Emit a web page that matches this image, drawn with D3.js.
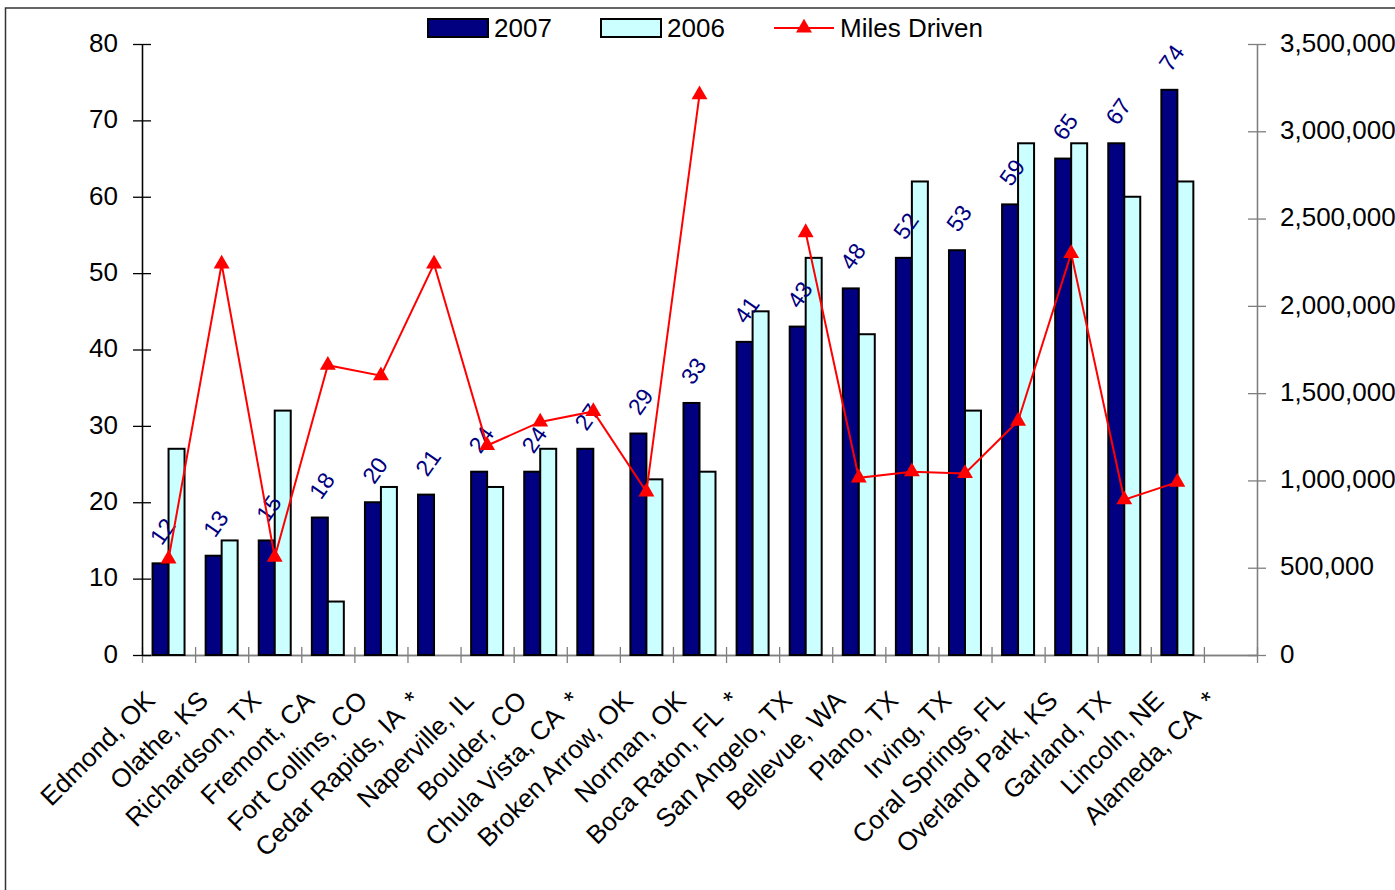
<!DOCTYPE html>
<html>
<head>
<meta charset="utf-8">
<script src="https://cdn.jsdelivr.net/npm/d3@7"></script>
<style>
  html, body { margin: 0; padding: 0; background: #fff; }
  svg { display: block; font-family: "Liberation Sans", Arial, sans-serif; }
</style>
</head>
<body>
<svg id="chart" width="1395" height="890"></svg>
<script>
// ---------------- data ----------------
const categories = ["Edmond, OK","Olathe, KS","Richardson, TX","Fremont, CA","Fort Collins, CO",
  "Cedar Rapids, IA *","Naperville, IL","Boulder, CO","Chula Vista, CA *","Broken Arrow, OK",
  "Norman, OK","Boca Raton, FL *","San Angelo, TX","Bellevue, WA","Plano, TX","Irving, TX",
  "Coral Springs, FL","Overland Park, KS","Garland, TX","Lincoln, NE","Alameda, CA *"];
const seriesNames = ["2007", "2006", "Miles Driven"];
const values2007 = [12,13,15,18,20,21,24,24,27,29,33,41,43,48,52,53,59,65,67,74,null];
const values2006 = [27,15,32,7,22,null,22,27,null,23,24,45,52,42,62,32,67,67,60,62,null];
const milesDriven = [550000,2240000,560000,1660000,1600000,2240000,1200000,1335000,1395000,935000,
  3210000,null,2420000,1015000,1050000,1040000,1340000,2300000,890000,990000,null];
const leftTicks = [0,10,20,30,40,50,60,70,80];
const rightTicks = [0,500000,1000000,1500000,2000000,2500000,3000000,3500000];

// ---------------- layout ----------------
const svg = d3.select("#chart");
const X0 = 142, X1 = 1257, Y0 = 655, YT = 44;
const colors = { dark: "#000080", light: "#CCFFFF", line: "#FF0000" };

// outer frame
svg.append("rect").attr("x", 5.5).attr("y", 8).attr("width", 1500).attr("height", 1000)
  .attr("fill", "none").attr("stroke", "#333").attr("stroke-width", 1.5);

const x = d3.scaleBand().domain(categories).range([X0, X1]).padding(0);
const xs = d3.scaleBand().domain(["2007","2006"]).range([0, x.bandwidth()]).paddingInner(0).paddingOuter(0.66);
const yL = d3.scaleLinear().domain([0, 80]).range([Y0, YT]);
const yR = d3.scaleLinear().domain([0, 3500000]).range([Y0, YT]);
const xIdx = d3.scaleLinear().domain([0, categories.length]).range([X0, X1]);

// ---------------- axes ----------------
function styleAxis(g, color) {
  g.selectAll("path, line").attr("stroke", color).attr("stroke-width", 1.3);
  g.selectAll("text").attr("fill", "#000").style("font-size", "26px")
    .style("font-family", '"Liberation Sans", Arial, sans-serif');
}
// x axis (category boundary ticks crossing the line)
const xa1 = svg.append("g").attr("transform", `translate(0,${Y0})`)
  .call(d3.axisBottom(xIdx).tickValues(d3.range(0, categories.length + 1)).tickFormat("").tickSize(8).tickSizeOuter(0));
const xa2 = svg.append("g").attr("transform", `translate(0,${Y0})`)
  .call(d3.axisTop(xIdx).tickValues(d3.range(0, categories.length + 1)).tickFormat("").tickSize(8).tickSizeOuter(0));
styleAxis(xa1, "#7f7f7f"); styleAxis(xa2, "#7f7f7f");

// left axis
const la1 = svg.append("g").attr("transform", `translate(${X0},0)`)
  .call(d3.axisLeft(yL).tickValues(leftTicks).tickSize(9).tickSizeOuter(0).tickPadding(15));
const la2 = svg.append("g").attr("transform", `translate(${X0},0)`)
  .call(d3.axisRight(yL).tickValues(leftTicks).tickSize(9).tickSizeOuter(0).tickFormat(""));
styleAxis(la1, "#000"); styleAxis(la2, "#000");
la1.selectAll("text").attr("dy", "0.28em");

// right axis
const ra1 = svg.append("g").attr("transform", `translate(${X1},0)`)
  .call(d3.axisRight(yR).tickValues(rightTicks).tickSize(9).tickSizeOuter(0).tickPadding(14).tickFormat(d3.format(",")));
const ra2 = svg.append("g").attr("transform", `translate(${X1},0)`)
  .call(d3.axisLeft(yR).tickValues(rightTicks).tickSize(9).tickSizeOuter(0).tickFormat(""));
styleAxis(ra1, "#7f7f7f"); styleAxis(ra2, "#7f7f7f");
ra1.selectAll("text").attr("dy", "0.28em");

// ---------------- bars ----------------
const rows = categories.map((c, i) => ({ c, v07: values2007[i], v06: values2006[i], m: milesDriven[i] }));
const gBars = svg.append("g");
gBars.selectAll("rect.b07").data(rows.filter(d => d.v07 != null)).join("rect")
  .attr("class", "b07")
  .attr("x", d => x(d.c) + xs("2007")).attr("width", xs.bandwidth())
  .attr("y", d => yL(d.v07)).attr("height", d => Y0 - yL(d.v07))
  .attr("fill", colors.dark).attr("stroke", "#000").attr("stroke-width", 2);
gBars.selectAll("rect.b06").data(rows.filter(d => d.v06 != null)).join("rect")
  .attr("class", "b06")
  .attr("x", d => x(d.c) + xs("2006")).attr("width", xs.bandwidth())
  .attr("y", d => yL(d.v06)).attr("height", d => Y0 - yL(d.v06))
  .attr("fill", colors.light).attr("stroke", "#000").attr("stroke-width", 2);

// data labels for 2007
svg.append("g").selectAll("text").data(rows.filter(d => d.v07 != null)).join("text")
  .attr("transform", d => `translate(${x(d.c) + xs("2007") + xs.bandwidth() / 2 + 2},${yL(d.v07) - 32}) rotate(-55)`)
  .attr("text-anchor", "middle").attr("dy", "0.35em")
  .style("font-size", "23px").attr("fill", colors.dark)
  .text(d => d.v07);

// ---------------- line ----------------
const cx = d => x(d.c) + x.bandwidth() / 2;
const line = d3.line().defined(d => d.m != null).x(cx).y(d => yR(d.m));
svg.append("path").datum(rows).attr("d", line)
  .attr("fill", "none").attr("stroke", colors.line).attr("stroke-width", 2);
const tri = d3.symbol().type(d3.symbolTriangle).size(110);
svg.append("g").selectAll("path").data(rows.filter(d => d.m != null)).join("path")
  .attr("transform", d => `translate(${cx(d)},${yR(d.m)})`)
  .attr("d", tri).attr("fill", colors.line);

// ---------------- x labels ----------------
svg.append("g").selectAll("text").data(categories).join("text")
  .attr("transform", c => `translate(${x(c) + x.bandwidth() / 2 - 12},702) rotate(-45)`)
  .attr("text-anchor", "end")
  .style("font-size", "26px").attr("fill", "#000")
  .text(c => c.replace(" *", "\u2009 *"));

// ---------------- legend ----------------
const lg = svg.append("g");
lg.append("rect").attr("x", 428).attr("y", 19).attr("width", 60).attr("height", 18)
  .attr("fill", colors.dark).attr("stroke", "#000").attr("stroke-width", 2);
lg.append("text").attr("x", 494).attr("y", 37).style("font-size", "26px").text(seriesNames[0]);
lg.append("rect").attr("x", 601).attr("y", 19).attr("width", 60).attr("height", 18)
  .attr("fill", colors.light).attr("stroke", "#000").attr("stroke-width", 2);
lg.append("text").attr("x", 667).attr("y", 37).style("font-size", "26px").text(seriesNames[1]);
lg.append("line").attr("x1", 774).attr("x2", 834).attr("y1", 28).attr("y2", 28)
  .attr("stroke", colors.line).attr("stroke-width", 2);
lg.append("path").attr("transform", "translate(804,28)").attr("d", tri).attr("fill", colors.line);
lg.append("text").attr("x", 840).attr("y", 37).style("font-size", "26px").text(seriesNames[2]);
</script>
</body>
</html>
